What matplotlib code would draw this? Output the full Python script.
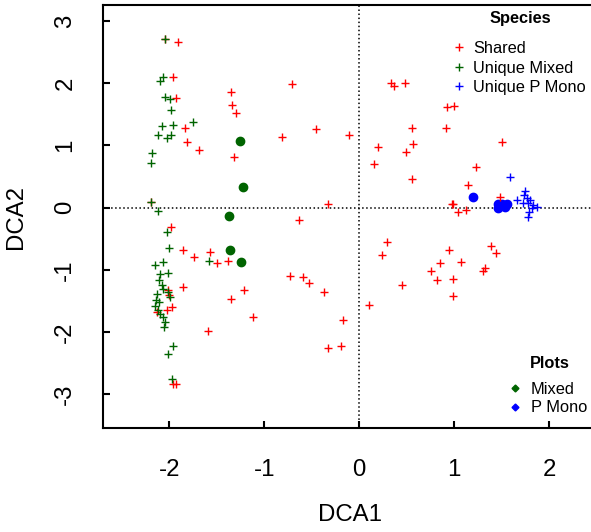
import matplotlib
matplotlib.use("Agg")
import matplotlib.pyplot as plt
from matplotlib.lines import Line2D

plt.rcParams['font.family'] = ['Liberation Sans', 'DejaVu Sans']
plt.rcParams['axes.unicode_minus'] = False

# species scores (DCA1, DCA2)
shared_x = [-2.045, -1.905, -1.958, -1.93, -1.354, -1.34, -1.301, -1.835, -1.817, -1.687,
            -1.316, -2.196, -1.985, -1.853, -1.737, -1.572, -1.501, -1.379, -1.853, -2.01,
            -2.0, -1.975, -2.027, -2.133, -1.354, -1.214, -1.116, -1.596, -1.964, -1.93,
            -0.712, -0.81, -0.459, -0.105, -0.326, -0.632, -0.729, -0.589, -0.53, -0.368,
            -0.168, -0.333, -0.193, 0.33, 0.365, 0.481, 0.2, 0.155, 0.295, 0.242,
            0.102, 0.92, 0.997, 0.551, 0.913, 1.499, 0.562, 0.492, 0.551, 1.228,
            1.141, 0.972, 0.99, 1.042, 1.12, 1.481, 0.944, 1.383, 1.439, 0.849,
            1.067, 0.755, 1.323, 1.305, 0.814, 0.99, 0.453, 0.983]
shared_y = [2.716, 2.67, 2.108, 1.76, 1.866, 1.652, 1.518, 1.276, 1.06, 0.927,
            0.809, 0.093, -0.319, -0.685, -0.793, -0.712, -0.889, -0.857, -1.276, -1.33,
            -1.41, -1.598, -1.652, -1.679, -1.464, -1.33, -1.76, -1.985, -2.833, -2.833,
            1.99, 1.141, 1.265, 1.168, 0.056, -0.201, -1.104, -1.115, -1.212, -1.357,
            -1.802, -2.253, -2.232, 2.011, 1.958, 2.0, 0.97, 0.701, -0.556, -0.766,
            -1.571, 1.625, 1.641, 1.286, 1.286, 1.06, 1.018, 0.889, 0.459, 0.657,
            0.363, 0.056, 0.056, -0.067, -0.04, 0.174, -0.685, -0.62, -0.728, -0.883,
            -0.873, -1.018, -0.964, -1.018, -1.168, -1.147, -1.249, -1.426]

mixed_x = [-2.045, -2.063, -2.098, -2.045, -1.99, -1.985, -1.747, -2.08, -1.958, -2.116,
           -2.027, -1.985, -2.179, -2.196, -2.196, -2.116, -2.027, -2.0, -1.579, -2.151,
           -2.063, -2.098, -2.01, -2.105, -2.08, -2.063, -2.126, -2.01, -1.993, -2.14,
           -2.105, -2.151, -2.116, -2.098, -2.063, -2.045, -2.056, -1.958, -2.01, -1.975]
mixed_y = [2.716, 2.098, 2.03, 1.786, 1.75, 1.571, 1.383, 1.313, 1.33, 1.168,
           1.115, 1.168, 0.873, 0.712, 0.093, -0.05, -0.39, -0.642, -0.857, -0.927,
           -0.873, -1.072, -1.05, -1.168, -1.249, -1.302, -1.383, -1.357, -1.437, -1.491,
           -1.518, -1.587, -1.652, -1.705, -1.76, -1.84, -1.921, -2.232, -2.361, -2.753]

mono_x = [1.586, 1.657, 1.744, 1.737, 1.762, 1.797, 1.779, 1.832, 1.726, 1.815, 1.867, 1.789, 1.779]
mono_y = [0.487, 0.121, 0.271, 0.201, 0.148, 0.121, 0.068, 0.04, 0.068, -0.013, 0.013, -0.068, -0.148]

# site scores
plot_mixed_x = [-1.256, -1.227, -1.368, -1.361, -1.245]
plot_mixed_y = [1.077, 0.325, -0.137, -0.685, -0.873]
plot_mono_x = [1.2, 1.463, 1.463, 1.534, 1.499, 1.552]
plot_mono_y = [0.164, 0.056, -0.013, 0.013, 0.056, 0.056]

W, H = 591, 532
fig = plt.figure(figsize=(W / 100, H / 100), dpi=100)
ax = fig.add_axes([0.1738, 0.1949, 0.836, 0.7957])

ax.axvline(0, color='black', linestyle=':', linewidth=1.1)
ax.axhline(0, color='black', linestyle=':', linewidth=1.1)

ax.plot(plot_mixed_x, plot_mixed_y, 'o', color='#006400', markersize=6, linestyle='none')
ax.plot(plot_mono_x, plot_mono_y, 'o', color='#0000FF', markersize=6, linestyle='none')
ax.plot(shared_x, shared_y, '+', color='#FF0000', markersize=6, markeredgewidth=1.0, linestyle='none')
ax.plot(mixed_x, mixed_y, '+', color='#006400', markersize=6, markeredgewidth=1.0, linestyle='none')
ax.plot(mono_x, mono_y, '+', color='#0000FF', markersize=6, markeredgewidth=1.0, linestyle='none')

ax.set_xlim(-2.70, 2.5)
ax.set_ylim(-3.55, 3.26)
ax.set_xticks([-2, -1, 0, 1, 2])
ax.set_yticks([-3, -2, -1, 0, 1, 2, 3])
ax.tick_params(direction='in', length=5, width=1.5, labelsize=17.3)
ax.tick_params(axis='x', pad=22)
ax.tick_params(axis='y', pad=19)
for lab in ax.get_yticklabels():
    lab.set_rotation(90)
    lab.set_va('center')
for s in ax.spines.values():
    s.set_linewidth(1.5)

ax.set_xlabel('DCA1', fontsize=17.3, labelpad=17)
ax.set_ylabel('DCA2', fontsize=17.3, labelpad=20)

# legends
sp_handles = [Line2D([], [], marker='+', color=c, linestyle='none', markersize=6, markeredgewidth=1.0)
              for c in ['#FF0000', '#006400', '#0000FF']]
leg1 = fig.legend(sp_handles, ['Shared', 'Unique Mixed', 'Unique P Mono'], loc='center left',
                  bbox_to_anchor=(450.8 / W, 1 - 68 / H), frameon=False, fontsize=11.8,
                  handlelength=1.0, handletextpad=0.35, labelspacing=0.28, borderpad=0,
                  borderaxespad=0)
fig.text(520 / W, 1 - 18 / H, 'Species', fontsize=11.8, fontweight='bold', ha='center', va='center')

pl_handles = [Line2D([], [], marker='D', color=c, linestyle='none', markersize=3.5)
              for c in ['#006400', '#0000FF']]
leg2 = fig.legend(pl_handles, ['Mixed', 'P Mono'], loc='center left',
                  bbox_to_anchor=(506.8 / W, 1 - 398.5 / H), frameon=False, fontsize=11.8,
                  handlelength=1.0, handletextpad=0.48, labelspacing=0.22, borderpad=0,
                  borderaxespad=0)
fig.text(550 / W, 1 - 363 / H, 'Plots', fontsize=11.8, fontweight='bold', ha='center', va='center')

fig.savefig('out.png', dpi=100)
